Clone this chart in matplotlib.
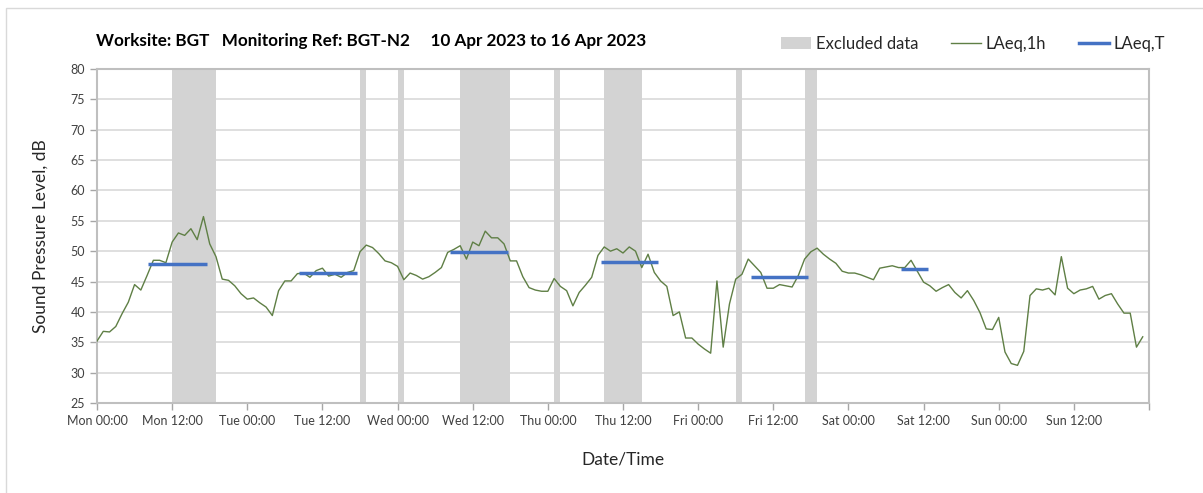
import numpy as np
import matplotlib
matplotlib.use('Agg')
from matplotlib import pyplot as plt
from matplotlib.patches import Patch, Rectangle
from matplotlib.lines import Line2D

plt.rcParams['font.family'] = ['Lato', 'DejaVu Sans']

# hourly LAeq,1h values from Mon 00:00 (hour 0) to Sun 23:00 (hour 167)
laeq_1h = [
    35.2, 36.8, 36.7, 37.6, 39.7, 41.6, 44.5, 43.6, 46.0, 48.5, 48.5, 48.1,
    51.5, 53.0, 52.6, 53.7, 51.9, 55.7, 51.2, 49.1, 45.4, 45.2, 44.3, 43.0,
    42.1, 42.3, 41.5, 40.8, 39.4, 43.5, 45.1, 45.1, 46.3, 46.4, 45.7, 46.8,
    47.2, 45.9, 46.2, 45.7, 46.5, 46.8, 49.9, 51.0, 50.6, 49.6, 48.4, 48.1,
    47.5, 45.3, 46.4, 46.0, 45.4, 45.8, 46.5, 47.3, 49.8, 50.3, 50.9, 48.7,
    51.5, 50.9, 53.3, 52.2, 52.2, 51.2, 48.4, 48.4, 45.8, 44.0, 43.6, 43.4,
    43.4, 45.5, 44.2, 43.5, 41.0, 43.2, 44.4, 45.7, 49.3, 50.7, 50.0, 50.4,
    49.7, 50.7, 50.0, 47.3, 49.5, 46.5, 45.1, 44.2, 39.4, 40.0, 35.7, 35.7,
    34.7, 33.9, 33.2, 45.1, 34.2, 41.3, 45.4, 46.2, 48.7, 47.6, 46.5, 43.9,
    43.9, 44.5, 44.3, 44.1, 46.0, 48.7, 49.9, 50.5, 49.5, 48.7, 48.0, 46.7,
    46.4, 46.4, 46.1, 45.7, 45.3, 47.2, 47.4, 47.6, 47.3, 47.3, 48.5, 46.7,
    44.9, 44.3, 43.4, 44.0, 44.5, 43.2, 42.3, 43.5, 41.9, 39.9, 37.2, 37.1,
    39.1, 33.4, 31.5, 31.2, 33.5, 42.7, 43.8, 43.6, 43.9, 42.8, 49.1, 43.9,
    43.0, 43.6, 43.8, 44.2, 42.1, 42.7, 43.0, 41.3, 39.8, 39.8, 34.2, 35.9,
]
hours = np.arange(len(laeq_1h))

# LAeq,T periods (start hour, end hour, level)
laeq_t_start = [8.1, 32.3, 56.4, 80.5, 104.4, 128.4]
laeq_t_end = [17.6, 41.5, 65.6, 89.6, 113.5, 132.7]
laeq_t_level = [47.9, 46.4, 49.8, 48.3, 45.8, 47.0]

# excluded data spans (start hour, end hour)
excl_start = [12, 42, 48, 58, 73, 81, 102, 113]
excl_end = [19, 43, 49, 66, 74, 87, 103, 115]

tick_labels = ['Mon 00:00', 'Mon 12:00', 'Tue 00:00', 'Tue 12:00', 'Wed 00:00',
               'Wed 12:00', 'Thu 00:00', 'Thu 12:00', 'Fri 00:00', 'Fri 12:00',
               'Sat 00:00', 'Sat 12:00', 'Sun 00:00', 'Sun 12:00', '']

green = '#5f7f45'
blue = '#4472c4'
grey_band = '#d3d3d3'

fig = plt.figure(figsize=(12.03, 4.93), dpi=100)
ax = fig.add_axes([97/1203, 1-403/493, (1149-97)/1203, (403-69)/493])

# outer frame of the chart
fig.patches.append(Rectangle((6/1203, -0.1), 1.2, 1.1-8/493, transform=fig.transFigure,
                             fill=False, edgecolor='#d9d9d9', linewidth=1))

for s, e in zip(excl_start, excl_end):
    ax.axvspan(s, e, color=grey_band, linewidth=0, zorder=1)

ax.plot(hours, laeq_1h, color=green, linewidth=1.0, zorder=3)
for s, e, lv in zip(laeq_t_start, laeq_t_end, laeq_t_level):
    ax.plot([s, e], [lv, lv], color=blue, linewidth=2.5, zorder=4, solid_capstyle='butt')

ax.set_xlim(0, 168)
ax.set_ylim(25, 80)
ax.set_yticks(np.arange(25, 81, 5))
ax.set_xticks(np.arange(0, 169, 12))
ax.set_xticklabels(tick_labels)
ax.set_xticks(np.arange(0, 169, 24), minor=True)

ax.grid(axis='y', color='#d9d9d9', linewidth=1.2, zorder=0)
ax.grid(axis='x', which='minor', color='#d9d9d9', linewidth=1.0, zorder=0)
ax.set_axisbelow(True)

for sp in ax.spines.values():
    sp.set_color('#bfbfbf')
    sp.set_linewidth(1.5)
ax.tick_params(axis='both', which='major', color='#a6a6a6', length=5, width=1,
               labelsize=9, labelcolor='#404040')
ax.tick_params(axis='x', which='minor', length=0)

ax.set_ylabel('Sound Pressure Level, dB', fontsize=12.5, color='#262626', labelpad=16)
ax.set_xlabel('Date/Time', fontsize=12.5, color='#262626', labelpad=18)

fig.text(96/1203, 1-41/493, 'Worksite: BGT   Monitoring Ref: BGT-N2     10 Apr 2023 to 16 Apr 2023',
         fontsize=12.3, fontweight='bold', va='center', ha='left', color='black')

handles = [Patch(facecolor=grey_band, edgecolor='none', label='Excluded data'),
           Line2D([], [], color=green, linewidth=1, label='LAeq,1h'),
           Line2D([], [], color=blue, linewidth=2.5, label='LAeq,T')]
fig.legend(handles=handles, loc='center right', bbox_to_anchor=(1180/1203, 1-44/493),
           ncol=3, frameon=False, fontsize=12, handlelength=1.75, handletextpad=0.3,
           columnspacing=2.0, labelcolor='#262626')

fig.savefig('out.png', dpi=100)
